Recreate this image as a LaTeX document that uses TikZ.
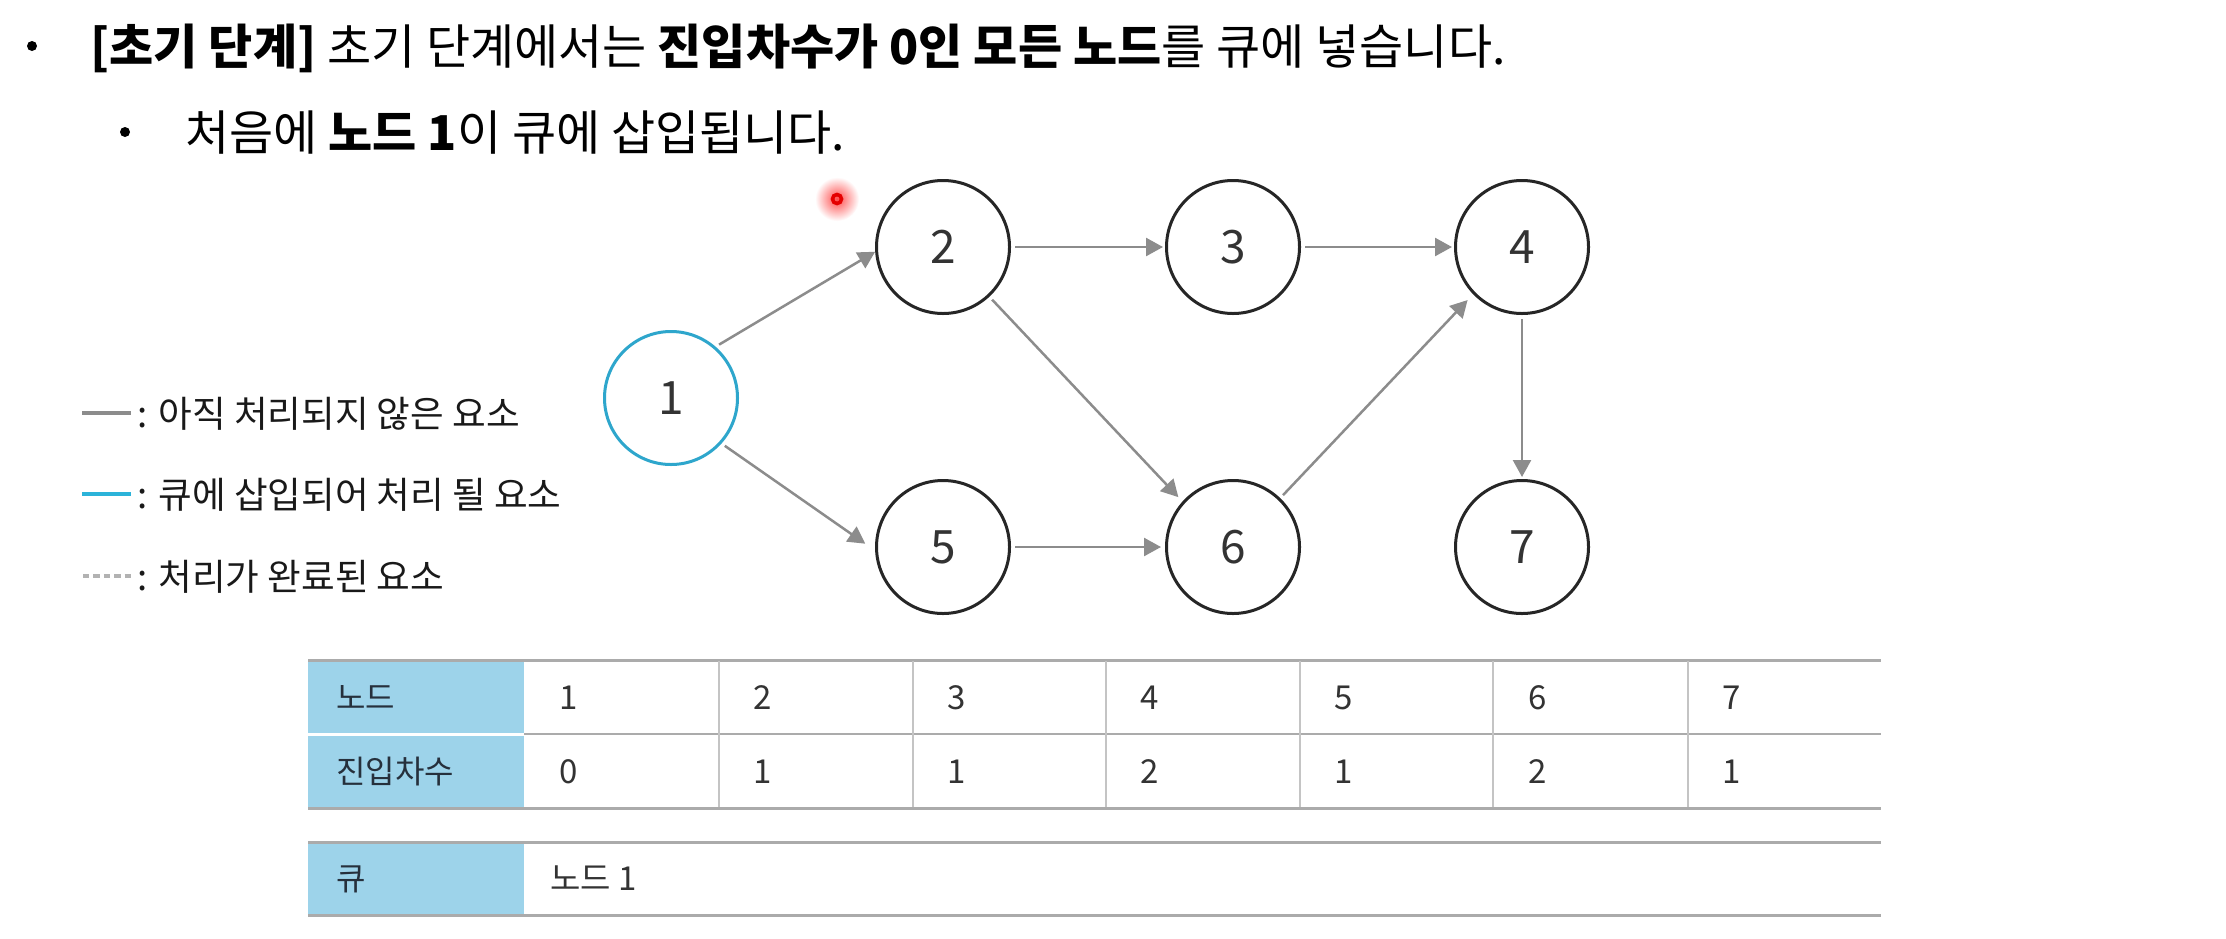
\documentclass[tikz,border=0pt]{standalone}
\usepackage{fontspec}
\setmainfont{Noto Sans CJK KR}
\usetikzlibrary{arrows.meta}
\definecolor{arrowgray}{HTML}{8C8C8C}
\definecolor{nodeblue}{HTML}{2EA6CC}
\definecolor{headblue}{HTML}{9DD3EA}
\definecolor{gridgray}{HTML}{ABABAB}
\definecolor{vgray}{HTML}{C4C4C4}
\definecolor{headtext}{HTML}{26303C}
\definecolor{bodytext}{HTML}{333333}
\definecolor{legblue}{HTML}{2BB3D9}
\begin{document}
\begin{tikzpicture}[x=0.5pt,y=-0.5pt,
  gnode/.style={circle, draw=black!85, line width=1.5pt, minimum size=66.5pt, inner sep=0pt,
    font=\fontsize{23}{23}\selectfont, text=black!80},
  startnode/.style={gnode, draw=nodeblue},
  edge/.style={draw=arrowgray, line width=1.25pt, -{Triangle[length=8.5pt,width=9pt]}},
  headline/.style={anchor=base west, inner sep=0pt, font=\fontsize{24}{28}\selectfont, text=black},
  bulletdot/.style={circle, fill=black, inner sep=0pt, minimum size=5pt},
  legtext/.style={anchor=base west, inner sep=0pt, font=\fontsize{18.3}{21}\selectfont, text=black!90},
  cellhead/.style={anchor=base west, inner sep=0pt, font=\fontsize{16}{19}\selectfont, text=headtext},
  cellval/.style={anchor=base west, inner sep=0pt, font=\fontsize{16.5}{19}\selectfont, text=bodytext},
  hrule/.style={draw=gridgray, line width=1.5pt},
  vrule/.style={draw=vgray, line width=0.8pt},
]
\useasboundingbox[fill=white] (0,0) rectangle (2226,938);

% heading
\node[bulletdot] (b1) at (32,46) {};
\node[headline] (h1) at (90,64) {\textbf{[초기 단계]} 초기 단계에서는 \textbf{진입차수가 0인 모든 노드}를 큐에 넣습니다.};
\node[bulletdot] (b2) at (125,132) {};
\node[headline] (h2) at (185,150) {처음에 \textbf{노드 1}이 큐에 삽입됩니다.};

% red pointer dot
\shade[inner color=red!70, outer color=white] (837,199) circle (22);
\draw[draw=red!90!black, line width=1.8pt] (837,199) circle (4.5);

% legend
\coordinate (l1a) at (82,413); \coordinate (l1b) at (131,413);
\coordinate (l2a) at (82,494); \coordinate (l2b) at (131,494);
\coordinate (l3a) at (83,576); \coordinate (l3b) at (131,576);
\draw[draw=arrowgray, line width=2.2pt] (l1a) -- (l1b);
\draw[draw=legblue, line width=2.2pt] (l2a) -- (l2b);
\draw[draw=black!30, line width=2.2pt, dash pattern=on 3.2pt off 2pt] (l3a) -- (l3b);
\node[legtext] (lt1) at (137,427) {: 아직 처리되지 않은 요소};
\node[legtext] (lt2) at (137,508) {: 큐에 삽입되어 처리 될 요소};
\node[legtext] (lt3) at (137,590) {: 처리가 완료된 요소};

% graph
\node[startnode] (n1) at (671,398) {1};
\node[gnode] (n2) at (943,247) {2};
\node[gnode] (n3) at (1233,247) {3};
\node[gnode] (n4) at (1522,247) {4};
\node[gnode] (n5) at (943,547) {5};
\node[gnode] (n6) at (1233,547) {6};
\node[gnode] (n7) at (1522,547) {7};

\draw[edge, shorten <=2pt] (n1.49) -- (n2.184);
\draw[edge, shorten <=2pt, shorten >=6pt] (n1.-42) -- (n5.183);
\draw[edge, shorten <=2pt, shorten >=1pt] (n2.east) -- (n3.west);
\draw[edge, shorten <=2pt, shorten >=1pt] (n3.east) -- (n4.west);
\draw[edge, shorten <=2pt, shorten >=3pt] (n2.-47) -- (n6.138);
\draw[edge, shorten <=2pt, shorten >=2pt] (n5.east) -- (n6.west);
\draw[edge, shorten <=2pt, shorten >=4pt] (n6.46) -- (n4.224);
\draw[edge, shorten <=2pt, shorten >=1pt] (n4.south) -- (n7.north);

% table 1
\fill[headblue] (308,660) rectangle (524,733);
\fill[headblue] (308,736) rectangle (524,808);
\draw[hrule] (308,660) -- (1881,660);
\draw[hrule, line width=1.3pt] (524,734) -- (1881,734);
\draw[hrule] (308,808) -- (1881,808);
\foreach \cx in {719,913,1106,1300,1493,1688} {
  \draw[vrule] (\cx,661) -- (\cx,807);
}
\node[cellhead] (th1) at (336,709) {노드};
\node[cellhead] (th2) at (336,783) {진입차수};
\foreach \v [count=\i] in {1,2,3,4,5,6,7} {
  \pgfmathsetmacro{\xx}{524+193.8*(\i-1)+35}
  \node[cellval] (tv\i) at (\xx,709) {\v};
}
\foreach \v [count=\i] in {0,1,1,2,1,2,1} {
  \pgfmathsetmacro{\xx}{524+193.8*(\i-1)+35}
  \node[cellval] (td\i) at (\xx,783) {\v};
}

% table 2 (queue)
\fill[headblue] (308,842) rectangle (524,915);
\draw[hrule] (308,842) -- (1881,842);
\draw[hrule] (308,915) -- (1881,915);
\node[cellhead] (tq) at (336,890) {큐};
\node[cellval] (tqv) at (550,890) {노드 1};
\end{tikzpicture}
\end{document}
